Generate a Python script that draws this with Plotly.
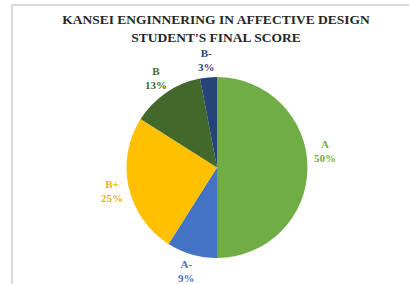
import math
import plotly.graph_objects as go

grades = ["A", "A-", "B+", "B", "B-"]
shares = [50, 9, 25, 13, 3]
slice_colors = ["#70AD47", "#4472C4", "#FFC000", "#43682B", "#264478"]
label_colors = ["#70AD47", "#4472C4", "#F0B400", "#43682B", "#264478"]
title_lines = ["KANSEI ENGINNERING IN AFFECTIVE DESIGN", "STUDENT'S FINAL SCORE"]

W, H = 409, 284
cx, cy, r = 217, 167.5, 90.5
label_r = 108

fig = go.Figure(go.Pie(
    labels=grades,
    values=shares,
    sort=False,
    direction="clockwise",
    rotation=0,
    marker=dict(colors=slice_colors, line=dict(color="white", width=0)),
    textinfo="none",
    showlegend=False,
    hoverinfo="label+percent",
    domain=dict(x=[(cx - r) / W, (cx + r) / W], y=[1 - (cy + r) / H, 1 - (cy - r) / H]),
))

# outside labels placed radially at each slice's mid-angle
annotations = []
total = sum(shares)
cum = 0
for g, v, c in zip(grades, shares, label_colors):
    mid = (cum + v / 2) / total * 2 * math.pi
    cum += v
    lx = cx + label_r * math.sin(mid)
    ly = cy - label_r * math.cos(mid)
    if g == "A":
        ly -= 17
    annotations.append(dict(
        x=lx / W, y=1 - ly / H, xref="paper", yref="paper",
        text=f"<b>{g}<br>{v}%</b>", showarrow=False,
        xanchor="center", yanchor="middle", align="center",
        font=dict(family="Liberation Serif", size=11, color=c),
    ))

fig.update_layout(
    width=W, height=H,
    margin=dict(l=0, r=0, t=0, b=0),
    paper_bgcolor="white",
    font=dict(family="Liberation Serif"),
    title=dict(
        text="<b>" + "<br>".join(title_lines) + "</b>",
        x=216 / W, xanchor="center",
        y=1 - 24 / H, yanchor="top",
        font=dict(family="Liberation Serif", size=13.5, color="#262626"),
    ),
    annotations=annotations,
    shapes=[
        dict(type="line", xref="paper", yref="paper", x0=12 / W, x1=1, y0=1 - 5 / H, y1=1 - 5 / H,
             line=dict(color="#D9D9D9", width=2)),
        dict(type="line", xref="paper", yref="paper", x0=12 / W, x1=12 / W, y0=0, y1=1 - 5 / H,
             line=dict(color="#D9D9D9", width=2)),
    ],
)

fig.write_html("out.html", config={"displayModeBar": False},
               post_script="document.body.style.margin='0';")
